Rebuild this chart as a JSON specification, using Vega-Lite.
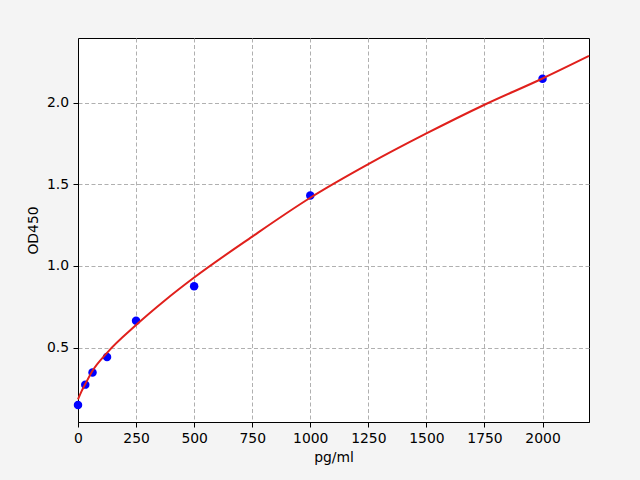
{
  "$schema": "https://vega.github.io/schema/vega-lite/v6.json",
  "width": 511,
  "height": 384,
  "autosize": {"type": "none"},
  "padding": {"left": 78, "top": 38, "right": 51, "bottom": 58},
  "background": "#f4f4f4",
  "config": {
    "font": "DejaVu Sans",
    "view": {"fill": "white", "stroke": "black", "strokeWidth": 1},
    "axis": {
      "domainColor": "black",
      "domainWidth": 1,
      "tickColor": "black",
      "tickSize": 5,
      "tickWidth": 1,
      "labelColor": "black",
      "labelFontSize": 13.9,
      "labelFont": "DejaVu Sans",
      "titleFont": "DejaVu Sans",
      "titleFontSize": 13.9,
      "titleFontWeight": "normal",
      "titleColor": "black",
      "grid": true,
      "gridColor": "#b0b0b0",
      "gridWidth": 1,
      "gridDash": [4, 2.5]
    }
  },
  "datasets": {
    "points": [
      {"conc": 0, "od": 0.148},
      {"conc": 31.25, "od": 0.273},
      {"conc": 62.5, "od": 0.347},
      {"conc": 125, "od": 0.443},
      {"conc": 250, "od": 0.665},
      {"conc": 500, "od": 0.876},
      {"conc": 1000, "od": 1.432},
      {"conc": 2000, "od": 2.147}
    ],
    "curve": [
      {"conc": 0, "od": 0.183},
      {"conc": 15, "od": 0.232},
      {"conc": 31.25, "od": 0.276},
      {"conc": 62.5, "od": 0.358},
      {"conc": 125, "od": 0.468},
      {"conc": 250, "od": 0.638},
      {"conc": 375, "od": 0.79},
      {"conc": 500, "od": 0.929},
      {"conc": 750, "od": 1.18},
      {"conc": 1000, "od": 1.418},
      {"conc": 1250, "od": 1.624},
      {"conc": 1500, "od": 1.812},
      {"conc": 1750, "od": 1.988},
      {"conc": 2000, "od": 2.149},
      {"conc": 2200, "od": 2.287}
    ]
  },
  "encoding": {
    "x": {
      "field": "conc",
      "type": "quantitative",
      "scale": {"domain": [0, 2200], "nice": false, "zero": false},
      "axis": {
        "title": "pg/ml",
        "values": [0, 250, 500, 750, 1000, 1250, 1500, 1750, 2000],
        "format": "d",
        "labelBaseline": "alphabetic",
        "labelPadding": 15,
        "labelFlush": false,
        "titleBaseline": "alphabetic",
        "titleX": 255.5,
        "titleY": 39
      }
    },
    "y": {
      "field": "od",
      "type": "quantitative",
      "scale": {"domain": [0.044, 2.397], "nice": false, "zero": false},
      "axis": {
        "title": "OD450",
        "values": [0.5, 1.0, 1.5, 2.0],
        "format": ".1f",
        "labelPadding": 4.5,
        "labelBaseline": "middle",
        "titleAngle": -90,
        "titleAlign": "center",
        "titleBaseline": "alphabetic",
        "titleX": -40.5,
        "titleY": 192
      }
    }
  },
  "layer": [
    {
      "data": {"name": "points"},
      "mark": {"type": "point", "filled": true, "shape": "circle", "size": 72, "color": "#0000ff", "opacity": 1}
    },
    {
      "data": {"name": "curve"},
      "mark": {"type": "line", "color": "#e0201c", "strokeWidth": 2, "interpolate": "monotone"}
    }
  ]
}
